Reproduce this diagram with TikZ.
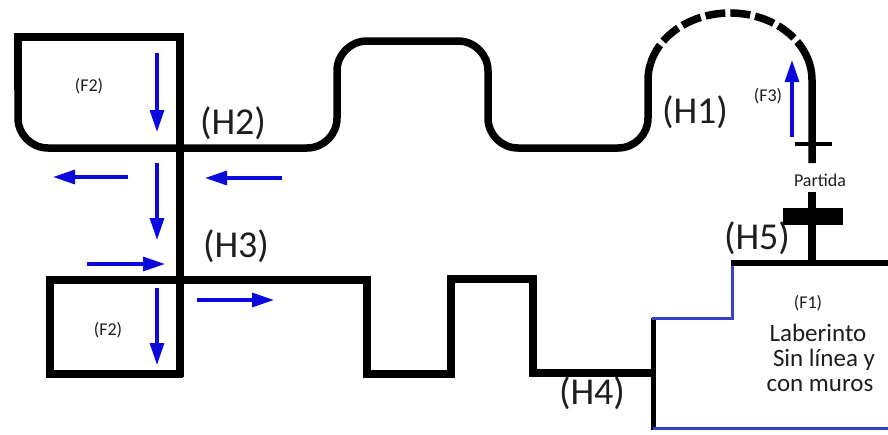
\documentclass[tikz,border=0pt]{standalone}
\usepackage{fontspec}
\setmainfont{Carlito}
\usetikzlibrary{arrows.meta}
\definecolor{ink}{HTML}{1E1E1E}
\definecolor{flow}{HTML}{0A0ADC}
\definecolor{edge}{HTML}{3441C8}
\tikzset{
  track/.style={line width=7.5pt, line join=miter, line cap=butt},
  thin track/.style={line width=5pt},
  blue edge/.style={draw=edge, line width=3pt},
  flowarrow/.style={draw=flow, line width=3.2pt, -{Triangle[length=22pt,width=14pt]}},
  hlabel/.style={text=ink, font=\fontsize{38}{40}\selectfont, inner sep=0pt},
  flabel/.style={text=ink, font=\fontsize{18}{20}\selectfont, inner sep=0pt},
  bodytext/.style={text=ink, font=\fontsize{25}{27}\selectfont, inner sep=0pt, align=center}
}
\begin{document}
\begin{tikzpicture}[x=1pt,y=-1pt]
\useasboundingbox[fill=white] (0,0) rectangle (888,434);

% upper loop with the bumps of the top track
\draw[track] (183,37) -- (18,37) -- (18,90);
\draw[track, rounded corners=30pt] (18,90) -- (18,148) -- (337,148) -- (337,41)
  -- (488,41) -- (488,148) -- (648,148) -- (648,80);
% arc over the start, dashed in the middle
\draw[track] (648,80) arc[start angle=180, end angle=195, x radius=82, y radius=67];
\draw[track, dash pattern=on 20pt off 5pt] (730,80) ++(195:82 and 67)
  arc[start angle=195, end angle=335, x radius=82, y radius=67];
\draw[track] (730,80) ++(335:82 and 67)
  arc[start angle=335, end angle=360, x radius=82, y radius=67] -- (812,163);
\draw[line width=4pt] (795,144) -- (832,144);
\node[flabel] (partida) at (820,180) {Partida};
\draw[track] (812,192) -- (812,263);
\fill (783,208) rectangle (843,225);

% central crossing line
\draw[track] (180,33) -- (180,377);

% lower box and square-wave track
\draw[track] (183,374) -- (50,374) -- (50,280) -- (367,280) -- (367,374)
  -- (451,374) -- (451,279) -- (533,279) -- (533,373) -- (653,373);
\draw[thin track] (653,318) -- (653,430);
\draw[blue edge] (653,428) -- (888,428);
\draw[blue edge] (652,318) -- (732,318) -- (732,262);
\draw[line width=6pt] (731,263) -- (888,263);

% direction arrows
\draw[flowarrow] (157,53) -- (157,132);
\draw[flowarrow] (128,177) -- (53,177);
\draw[flowarrow] (282,178) -- (205,178);
\draw[flowarrow] (157,163) -- (157,240);
\draw[flowarrow] (87,264) -- (165,264);
\draw[flowarrow] (157,288) -- (157,365);
\draw[flowarrow] (197,300) -- (274,300);
\draw[flowarrow] (792,137) -- (792,60);

% labels
\node[hlabel] (h2) at (233,123) {(H2)};
\node[hlabel] (h3) at (236,246) {(H3)};
\node[hlabel] (h1) at (695,112) {(H1)};
\node[hlabel] (h5) at (757,238) {(H5)};
\node[hlabel] (h4) at (592,393) {(H4)};
\node[flabel] (f2a) at (89,86) {(F2)};
\node[flabel] (f2b) at (108,330) {(F2)};
\node[flabel] (f3) at (768,96) {(F3)};
\node[flabel] (f1) at (808,303) {(F1)};
\node[bodytext] (lab) at (818,333) {Laberinto};
\node[bodytext] (sin) at (824,360) {Sin línea y};
\node[bodytext] (con) at (820,386) {con muros};
\end{tikzpicture}
\end{document}
